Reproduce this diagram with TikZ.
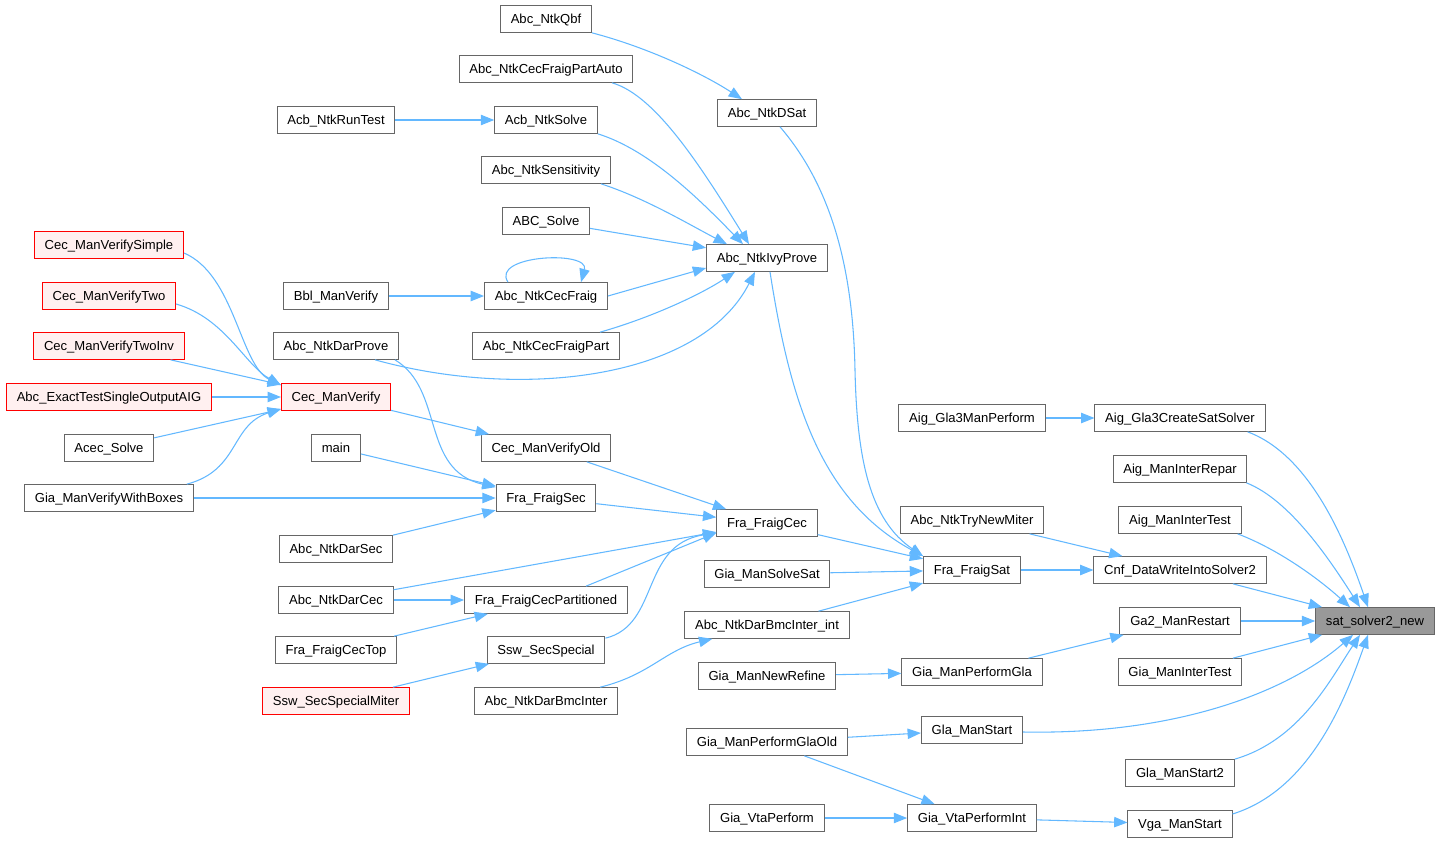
\documentclass[tikz,border=0pt]{standalone}
\usepackage{fontspec}
\setmainfont{Liberation Sans}
\usetikzlibrary{arrows.meta,calc}
\definecolor{callblue}{HTML}{63B8FF}
\definecolor{boxgray}{HTML}{666666}
\definecolor{rootgray}{HTML}{999999}
\definecolor{redfill}{HTML}{FFF0F0}
\begin{document}
\begin{tikzpicture}[x=0.75pt, y=-0.75pt,
  fn/.style={draw=boxgray, fill=white, line width=0.75pt, inner xsep=7.7pt, inner ysep=0pt, minimum height=20pt, text height=7.2pt, text depth=0.4pt, font=\fontsize{9.8pt}{11pt}\selectfont},
  redfn/.style={fn, draw=red, fill=redfill},
  rootfn/.style={fn, fill=rootgray},
  call/.style={draw=callblue, line width=0.8pt, -{Triangle[length=10pt,width=7.8pt]}}]
\useasboundingbox (0,0) rectangle (1440,843);
% Functions with red frames
\foreach \n/\x/\y/\t in {cvsimple/109/245/Cec\_ManVerifySimple, cvtwo/109/296/Cec\_ManVerifyTwo, cvtwoinv/109/346/Cec\_ManVerifyTwoInv, exact/109/397/Abc\_ExactTestSingleOutputAIG, cv/336/397/Cec\_ManVerify, miter/336/701/Ssw\_SecSpecialMiter}
  \node[redfn] (\n) at (\x,\y) {\t};
% Plain callers, column by column
\foreach \n/\x/\y/\t in {acec/109/448/Acec\_Solve, gvwb/109/498/Gia\_ManVerifyWithBoxes,
  acbrun/336/120/Acb\_NtkRunTest, bbl/336/296/Bbl\_ManVerify, darprove/336/346/Abc\_NtkDarProve, mainfn/336/448/main, darsec/336/549/Abc\_NtkDarSec, darcec/336/600/Abc\_NtkDarCec, cectop/336/650/Fra\_FraigCecTop,
  qbf/546/19/Abc\_NtkQbf, partauto/546/69/Abc\_NtkCecFraigPartAuto, acbsolve/546/120/Acb\_NtkSolve, sens/546/170/Abc\_NtkSensitivity, abcsolve/546/221/ABC\_Solve, cecfraig/546/296/Abc\_NtkCecFraig, cfpart/546/346/Abc\_NtkCecFraigPart, cvold/546/448/Cec\_ManVerifyOld, fsec/546/498/Fra\_FraigSec, fpart/546/600/Fra\_FraigCecPartitioned, sswspec/546/650/Ssw\_SecSpecial, bmcinter/546/701/Abc\_NtkDarBmcInter,
  dsat/767/113/Abc\_NtkDSat, ivy/767/258/Abc\_NtkIvyProve, fcec/767/523/Fra\_FraigCec, gsolve/767/574/Gia\_ManSolveSat, bmcint/767/625/Abc\_NtkDarBmcInter\_int, newref/767/676/Gia\_ManNewRefine, glaold/767/742/Gia\_ManPerformGlaOld, vtaperf/767/818/Gia\_VtaPerform,
  gla3perf/972/418/Aig\_Gla3ManPerform, trymiter/972/520/Abc\_NtkTryNewMiter, fsat/972/570/Fra\_FraigSat, pgla/972/672/Gia\_ManPerformGla, glastart/972/730/Gla\_ManStart, vtaint/972/818/Gia\_VtaPerformInt,
  gla3create/1180/418/Aig\_Gla3CreateSatSolver, interrepar/1180/469/Aig\_ManInterRepar, intertest/1180/520/Aig\_ManInterTest, cnf/1180/570/Cnf\_DataWriteIntoSolver2, restart/1180/621/Ga2\_ManRestart, gintertest/1180/672/Gia\_ManInterTest, glastart2/1180/773/Gla\_ManStart2, vgastart/1180/824/Vga\_ManStart}
  \node[fn] (\n) at (\x,\y) {\t};
\node[rootfn] (sat) at (1375,621) {sat\_solver2\_new};
% Straight calls
\foreach \a/\b in {acbrun/acbsolve, abcsolve/ivy, bbl/cecfraig, cvtwoinv/cv, exact/cv, acec/cv, gvwb/fsec, cv/cvold, cvold/fcec, mainfn/fsec, darsec/fsec, fsec/fcec, darcec/fcec, darcec/fpart, cectop/fpart, miter/sswspec, fcec/fsat, gsolve/fsat, bmcint/fsat, fsat/cnf, trymiter/cnf, gla3perf/gla3create, newref/pgla, pgla/restart, glaold/glastart, glaold/vtaint, vtaperf/vtaint, vtaint/vgastart, cnf/sat, restart/sat, gintertest/sat}
  \draw[call] (\a) -- (\b);
\draw[call] (cecfraig.east) -- ($(ivy.west)+(0,10)$);
\draw[call] ($(fpart.north)+(40,0)$) -- ($(fcec.south west)+(0,-4)$);
% Curved calls, upper part
\draw[call] (qbf.south east) .. controls (650,48) and (705,75) .. ($(dsat.north)+(-25,0)$);
\draw[call] ($(dsat.south)+(13,0)$) .. controls (830,185) and (853,265) .. (855,370) .. controls (857,460) and (870,520) .. (fsat.north west);
\draw[call] ($(ivy.south)+(3,0)$) .. controls (790,400) and (820,500) .. (fsat.north west);
\draw[call] ($(partauto.south)+(66,0)$) .. controls (655,95) and (700,165) .. ($(ivy.north)+(-18,0)$);
\draw[call] (acbsolve.south east) .. controls (650,150) and (700,200) .. ($(ivy.north)+(-24,0)$);
\draw[call] ($(sens.south)+(55,0)$) .. controls (645,198) and (690,225) .. ($(ivy.north)+(-40,0)$);
\draw[call] ($(cecfraig.north)+(-38,0)$) .. controls (490,255) and (590,250) .. ($(cecfraig.north)+(35,0)$);
\draw[call] ($(cfpart.north)+(54,0)$) .. controls (650,318) and (700,295) .. ($(ivy.south)+(-32,0)$);
\draw[call] ($(darprove.south)+(39,0)$) .. controls (520,400) and (700,380) .. ($(ivy.south)+(-12,0)$);
\draw[call] ($(darprove.south)+(59,0)$) .. controls (445,390) and (420,470) .. ($(fsec.north west)+(0,3)$);
% Curved calls into Cec_ManVerify
\draw[call] ($(cvsimple.east)+(0,8)$) .. controls (235,275) and (240,365) .. ($(cv.north west)+(0,2)$);
\draw[call] ($(cvtwo.east)+(0,8)$) .. controls (225,318) and (245,365) .. ($(cv.north west)+(0,2)$);
\draw[call] ($(gvwb.north east)+(-7,0)$) .. controls (240,470) and (230,425) .. ($(cv.south west)+(0,-2)$);
% Curved calls, lower part
\draw[call] ($(sswspec.north east)+(0,2)$) .. controls (660,625) and (640,545) .. ($(fcec.south west)+(0,-4)$);
\draw[call] ($(bmcinter.north east)+(-18,0)$) .. controls (650,675) and (665,650) .. ($(bmcint.south west)+(28,0)$);
% Curved calls into sat_solver2_new
\draw[call] ($(gla3create.south east)+(-18,0)$) .. controls (1310,455) and (1345,540) .. ($(sat.north)+(-7,0)$);
\draw[call] ($(interrepar.south east)+(-1,0)$) .. controls (1290,500) and (1330,560) .. ($(sat.north)+(-15,0)$);
\draw[call] ($(intertest.south east)+(-4,0)$) .. controls (1280,550) and (1320,580) .. ($(sat.north)+(-25,0)$);
\draw[call] ($(glastart.east)+(0,2)$) .. controls (1180,735) and (1290,690) .. ($(sat.south)+(-22,0)$);
\draw[call] (glastart2.north east) .. controls (1300,740) and (1330,680) .. ($(sat.south)+(-15,0)$);
\draw[call] ($(vgastart.east)+(0,-10)$) .. controls (1310,790) and (1345,700) .. ($(sat.south)+(-7,0)$);
\end{tikzpicture}
\end{document}
